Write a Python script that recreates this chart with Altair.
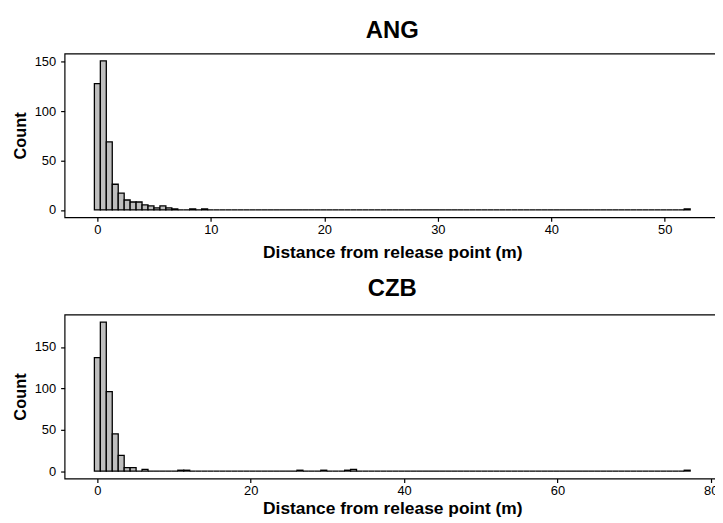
import altair as alt
import pandas as pd

# ---- data (sparse histogram bins; other bins are 0) ----
n_bins = 100
ang_binwidth = 0.525
ang_bin_index = [0, 1, 2, 3, 4, 5, 6, 7, 8, 9, 10, 11, 12, 13, 16, 18, 99]
ang_counts = [128, 151, 69, 26, 17, 10, 8, 8, 5, 4, 2, 4, 2, 1, 1, 1, 1]

czb_binwidth = 0.777
czb_bin_index = [0, 1, 2, 3, 4, 5, 6, 8, 14, 15, 34, 38, 42, 43, 99]
czb_counts = [137, 180, 96, 45, 19, 4, 4, 2, 1, 1, 1, 1, 1, 2, 1]

ang_xticks = [0, 10, 20, 30, 40, 50]
czb_xticks = [0, 20, 40, 60, 80]
yticks = [0, 50, 100, 150]

FONT = "Liberation Sans"


def make_table(idx, cnt, w):
    lookup = dict(zip(idx, cnt))
    rows = []
    for i in range(n_bins):
        rows.append({"x0": i * w - w / 2, "x1": i * w + w / 2, "count": lookup.get(i, 0)})
    return pd.DataFrame(rows)


def panel(title, idx, cnt, w, xticks, xtitle_pad, title_off):
    df = make_table(idx, cnt, w)
    lo = -w / 2
    hi = (n_bins - 1) * w + w / 2
    ex = 0.05 * (hi - lo)
    ymax = max(cnt)
    ey = 0.05 * ymax
    return (
        alt.Chart(df, title=alt.TitleParams(title, fontSize=24, font=FONT, fontWeight="bold",
                                            anchor="middle", offset=title_off, color="black"))
        .mark_rect(fill="#BEBEBE", stroke="black", strokeWidth=1.3)
        .encode(
            x=alt.X("x0:Q", scale=alt.Scale(domain=[lo - ex, hi + ex], nice=False, zero=False),
                    axis=alt.Axis(values=xticks, title="Distance from release point (m)",
                                  format="d", grid=False, titlePadding=xtitle_pad,
                                  labelPadding=2)),
            x2="x1:Q",
            y=alt.Y("count:Q", scale=alt.Scale(domain=[-ey, ymax + ey], nice=False, zero=False),
                    axis=alt.Axis(values=yticks, title="Count", grid=False, titlePadding=6,
                                  labelPadding=5)),
            y2=alt.datum(0),
        )
        .properties(width=660, height=165)
    )


top = panel("ANG", ang_bin_index, ang_counts, ang_binwidth, ang_xticks, 7, 11)
bottom = panel("CZB", czb_bin_index, czb_counts, czb_binwidth, czb_xticks, 2, 14)

chart = (
    alt.vconcat(top, bottom, spacing=14)
    .configure_view(stroke="black", strokeWidth=1.2)
    .configure_axis(
        domain=False,
        tickColor="black",
        tickSize=4,
        tickWidth=1.2,
        labelFont=FONT,
        labelFontSize=13,
        labelColor="black",
        titleFont=FONT,
        titleFontSize=17.5,
        titleFontWeight="bold",
        titleColor="black",
    )
    .configure_axisY(titleFontSize=16.5)
    .properties(padding={"left": 3, "top": 8, "right": -6, "bottom": 0})
)

chart.save("out.html", embed_options={"renderer": "svg", "actions": False})
